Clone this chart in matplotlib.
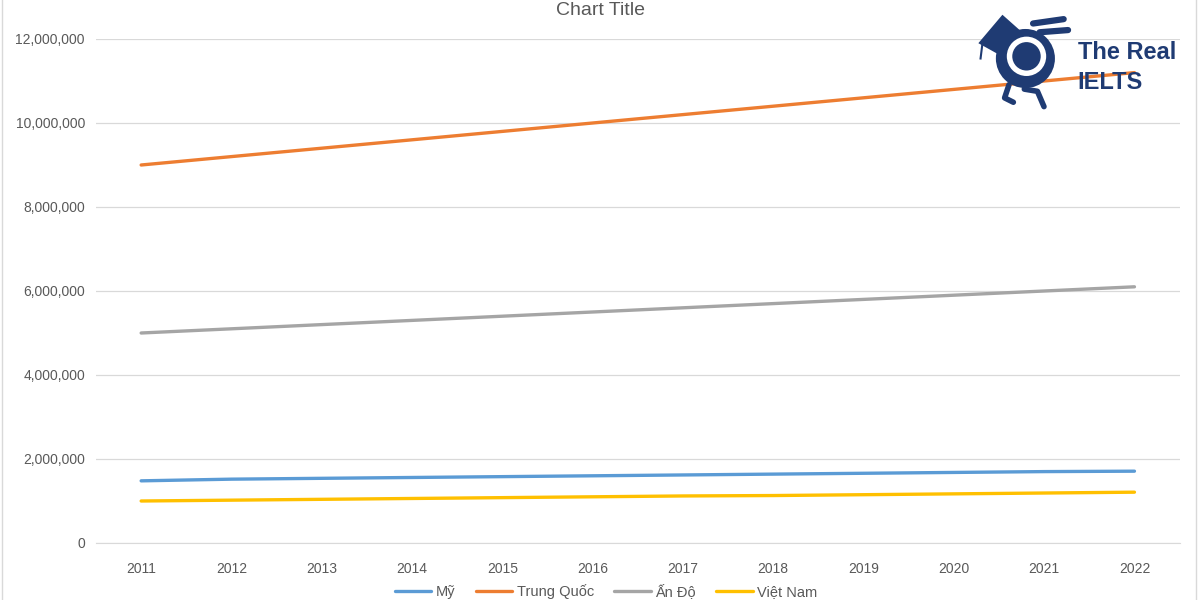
import matplotlib.pyplot as plt
from matplotlib.ticker import FuncFormatter
from matplotlib.patches import Rectangle, Circle, Polygon

plt.rcParams['font.family'] = ['Liberation Sans', 'DejaVu Sans']

years = ['2011', '2012', '2013', '2014', '2015', '2016', '2017', '2018', '2019', '2020', '2021', '2022']
my = [1480000, 1520000, 1540000, 1560000, 1580000, 1600000, 1620000, 1640000, 1660000, 1680000, 1700000, 1710000]
trung_quoc = [9000000, 9200000, 9400000, 9600000, 9800000, 10000000, 10200000, 10400000, 10600000, 10800000, 11000000, 11200000]
an_do = [5000000, 5100000, 5200000, 5300000, 5400000, 5500000, 5600000, 5700000, 5800000, 5900000, 6000000, 6100000]
viet_nam = [1000000, 1020000, 1040000, 1060000, 1080000, 1100000, 1120000, 1130000, 1150000, 1170000, 1190000, 1210000]
names = ['Mỹ', 'Trung Quốc', 'Ấn Độ', 'Việt Nam']
colors = ['#5B9BD5', '#ED7D31', '#A5A5A5', '#FFC000']

fig = plt.figure(figsize=(12, 6), dpi=100)
ax = fig.add_axes([0.08, 0.095, 0.903, 0.84])

x = list(range(len(years)))
for vals, name, c in zip([my, trung_quoc, an_do, viet_nam], names, colors):
    ax.plot(x, vals, color=c, lw=2.4, label=name, solid_capstyle='round')

ax.set_xlim(-0.5, len(years) - 0.5)
ax.set_ylim(0, 12000000)
ax.set_yticks(range(0, 12000001, 2000000))
ax.yaxis.set_major_formatter(FuncFormatter(lambda v, p: f'{int(v):,}'))
ax.set_xticks(x)
ax.set_xticklabels(years)
ax.grid(axis='y', color='#D9D9D9', lw=0.9)
ax.set_axisbelow(True)
for s in ['top', 'right', 'left']:
    ax.spines[s].set_visible(False)
ax.spines['bottom'].set_color('#D9D9D9')
ax.tick_params(length=0, labelsize=10, colors='#595959')
ax.tick_params(axis='x', pad=14)
ax.tick_params(axis='y', pad=8)

fig.text(0.5, 0.982, 'Chart Title', ha='center', va='center', fontsize=14, color='#595959')

fig.legend(loc='center', bbox_to_anchor=(0.505, 0.014), ncol=4, frameon=False,
           fontsize=10.5, labelcolor='#595959', handlelength=2.5, handletextpad=0.3,
           columnspacing=1.4)

# chart border
fig.patches.append(Rectangle((0.002, -0.01), 0.995, 1.02, transform=fig.transFigure,
                             fill=False, edgecolor='#D9D9D9', lw=1))

# watermark logo
navy = '#1F3B73'
lax = fig.add_axes([0.812, 0.815, 0.085, 0.175])
lax.set_xlim(0, 90)
lax.set_ylim(0, 96)
lax.set_aspect('equal')
lax.axis('off')
lax.add_patch(Circle((45, 48), 27, facecolor=navy, edgecolor='none'))
lax.add_patch(Circle((46, 50), 18, facecolor='white', edgecolor='none'))
lax.add_patch(Circle((46, 50), 13, facecolor=navy, edgecolor='none'))
lax.add_patch(Polygon([[2, 62], [24, 88], [42, 72], [20, 52]], facecolor=navy, edgecolor='none'))
lax.plot([6, 4], [64, 48], color=navy, lw=1.5)
lax.plot([52, 80], [80, 84], color=navy, lw=4.5, solid_capstyle='round')
lax.plot([58, 84], [72, 74], color=navy, lw=4.5, solid_capstyle='round')
lax.plot([30, 26, 34], [24, 12, 8], color=navy, lw=4, solid_capstyle='round')
lax.plot([44, 56, 62], [20, 18, 4], color=navy, lw=4, solid_capstyle='round')
fig.text(0.898, 0.912, 'The Real', fontsize=17, color=navy, fontweight='bold', va='center', zorder=8)
fig.text(0.898, 0.863, 'IELTS', fontsize=17, color=navy, fontweight='bold', va='center', zorder=8)

fig.savefig('out.png', dpi=100)
